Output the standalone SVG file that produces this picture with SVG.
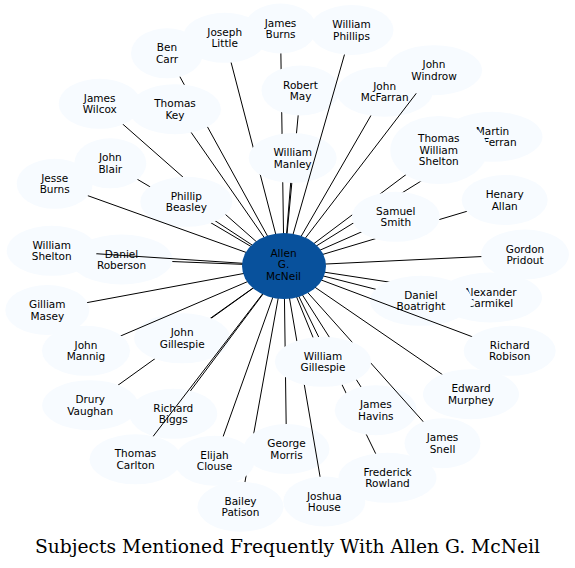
<svg xmlns="http://www.w3.org/2000/svg" xmlns:xlink="http://www.w3.org/1999/xlink" width="575" height="568" viewBox="0 0 575 568">
<style>
.node{fill:#f7fbff}
.node text,.center text{fill:#000;font-family:"DejaVu Sans",sans-serif;font-size:10.5px;text-anchor:middle}
.center{fill:#08519c}
#edges line{stroke:#000;stroke-width:1;fill:none}
mask rect{fill:#fff}
mask use{fill:#000}
.title{font-family:"DejaVu Serif",serif;font-size:18.7px;text-anchor:middle;fill:#000}
</style>
<defs>
<mask id="m-jburns" maskUnits="userSpaceOnUse" x="0" y="0" width="575" height="568"><rect width="575" height="568"/><use href="#e-jburns"/><use href="#e-rmay"/><use href="#e-wmanley"/></mask>
<mask id="m-bcarr" maskUnits="userSpaceOnUse" x="0" y="0" width="575" height="568"><rect width="575" height="568"/><use href="#e-bcarr"/><use href="#e-tkey"/></mask>
<mask id="m-tkey" maskUnits="userSpaceOnUse" x="0" y="0" width="575" height="568"><rect width="575" height="568"/><use href="#e-tkey"/></mask>
<mask id="m-jlittle" maskUnits="userSpaceOnUse" x="0" y="0" width="575" height="568"><rect width="575" height="568"/><use href="#e-jlittle"/><use href="#e-wmanley"/></mask>
<mask id="m-rmay" maskUnits="userSpaceOnUse" x="0" y="0" width="575" height="568"><rect width="575" height="568"/><use href="#e-rmay"/><use href="#e-wmanley"/></mask>
<mask id="m-wmanley" maskUnits="userSpaceOnUse" x="0" y="0" width="575" height="568"><rect width="575" height="568"/><use href="#e-wmanley"/></mask>
<mask id="m-wphillips" maskUnits="userSpaceOnUse" x="0" y="0" width="575" height="568"><rect width="575" height="568"/><use href="#e-wphillips"/></mask>
<mask id="m-jmcfarran" maskUnits="userSpaceOnUse" x="0" y="0" width="575" height="568"><rect width="575" height="568"/><use href="#e-jmcfarran"/></mask>
<mask id="m-jwindrow" maskUnits="userSpaceOnUse" x="0" y="0" width="575" height="568"><rect width="575" height="568"/><use href="#e-jwindrow"/></mask>
<mask id="m-mmcferran" maskUnits="userSpaceOnUse" x="0" y="0" width="575" height="568"><rect width="575" height="568"/><use href="#e-mmcferran"/><use href="#e-twshelton"/><use href="#e-ssmith"/></mask>
<mask id="m-twshelton" maskUnits="userSpaceOnUse" x="0" y="0" width="575" height="568"><rect width="575" height="568"/><use href="#e-twshelton"/><use href="#e-ssmith"/></mask>
<mask id="m-hallan" maskUnits="userSpaceOnUse" x="0" y="0" width="575" height="568"><rect width="575" height="568"/><use href="#e-hallan"/><use href="#e-ssmith"/></mask>
<mask id="m-ssmith" maskUnits="userSpaceOnUse" x="0" y="0" width="575" height="568"><rect width="575" height="568"/><use href="#e-ssmith"/></mask>
<mask id="m-gpridout" maskUnits="userSpaceOnUse" x="0" y="0" width="575" height="568"><rect width="575" height="568"/><use href="#e-gpridout"/></mask>
<mask id="m-acarmikel" maskUnits="userSpaceOnUse" x="0" y="0" width="575" height="568"><rect width="575" height="568"/><use href="#e-acarmikel"/><use href="#e-dboatright"/></mask>
<mask id="m-dboatright" maskUnits="userSpaceOnUse" x="0" y="0" width="575" height="568"><rect width="575" height="568"/><use href="#e-dboatright"/></mask>
<mask id="m-rrobison" maskUnits="userSpaceOnUse" x="0" y="0" width="575" height="568"><rect width="575" height="568"/><use href="#e-rrobison"/></mask>
<mask id="m-emurphey" maskUnits="userSpaceOnUse" x="0" y="0" width="575" height="568"><rect width="575" height="568"/><use href="#e-emurphey"/></mask>
<mask id="m-frowland" maskUnits="userSpaceOnUse" x="0" y="0" width="575" height="568"><rect width="575" height="568"/><use href="#e-frowland"/><use href="#e-jhavins"/><use href="#e-wgillespie"/></mask>
<mask id="m-jhavins" maskUnits="userSpaceOnUse" x="0" y="0" width="575" height="568"><rect width="575" height="568"/><use href="#e-jhavins"/><use href="#e-wgillespie"/></mask>
<mask id="m-jsnell" maskUnits="userSpaceOnUse" x="0" y="0" width="575" height="568"><rect width="575" height="568"/><use href="#e-jsnell"/><use href="#e-wgillespie"/></mask>
<mask id="m-bpatison" maskUnits="userSpaceOnUse" x="0" y="0" width="575" height="568"><rect width="575" height="568"/><use href="#e-bpatison"/><use href="#e-eclouse"/><use href="#e-gmorris"/></mask>
<mask id="m-eclouse" maskUnits="userSpaceOnUse" x="0" y="0" width="575" height="568"><rect width="575" height="568"/><use href="#e-eclouse"/></mask>
<mask id="m-gmorris" maskUnits="userSpaceOnUse" x="0" y="0" width="575" height="568"><rect width="575" height="568"/><use href="#e-gmorris"/><use href="#e-wgillespie"/></mask>
<mask id="m-jhouse" maskUnits="userSpaceOnUse" x="0" y="0" width="575" height="568"><rect width="575" height="568"/><use href="#e-jhouse"/><use href="#e-wgillespie"/></mask>
<mask id="m-wgillespie" maskUnits="userSpaceOnUse" x="0" y="0" width="575" height="568"><rect width="575" height="568"/><use href="#e-wgillespie"/></mask>
<mask id="m-dvaughan" maskUnits="userSpaceOnUse" x="0" y="0" width="575" height="568"><rect width="575" height="568"/><use href="#e-dvaughan"/><use href="#e-jgillespie"/></mask>
<mask id="m-jgillespie" maskUnits="userSpaceOnUse" x="0" y="0" width="575" height="568"><rect width="575" height="568"/><use href="#e-jgillespie"/></mask>
<mask id="m-rbiggs" maskUnits="userSpaceOnUse" x="0" y="0" width="575" height="568"><rect width="575" height="568"/><use href="#e-rbiggs"/></mask>
<mask id="m-tcarlton" maskUnits="userSpaceOnUse" x="0" y="0" width="575" height="568"><rect width="575" height="568"/><use href="#e-tcarlton"/></mask>
<mask id="m-jmannig" maskUnits="userSpaceOnUse" x="0" y="0" width="575" height="568"><rect width="575" height="568"/><use href="#e-jmannig"/></mask>
<mask id="m-gmasey" maskUnits="userSpaceOnUse" x="0" y="0" width="575" height="568"><rect width="575" height="568"/><use href="#e-gmasey"/></mask>
<mask id="m-droberson" maskUnits="userSpaceOnUse" x="0" y="0" width="575" height="568"><rect width="575" height="568"/><use href="#e-droberson"/></mask>
<mask id="m-wshelton" maskUnits="userSpaceOnUse" x="0" y="0" width="575" height="568"><rect width="575" height="568"/><use href="#e-wshelton"/></mask>
<mask id="m-jesseburns" maskUnits="userSpaceOnUse" x="0" y="0" width="575" height="568"><rect width="575" height="568"/><use href="#e-jesseburns"/></mask>
<mask id="m-jblair" maskUnits="userSpaceOnUse" x="0" y="0" width="575" height="568"><rect width="575" height="568"/><use href="#e-jblair"/><use href="#e-pbeasley"/></mask>
<mask id="m-jwilcox" maskUnits="userSpaceOnUse" x="0" y="0" width="575" height="568"><rect width="575" height="568"/><use href="#e-jwilcox"/><use href="#e-pbeasley"/></mask>
<mask id="m-pbeasley" maskUnits="userSpaceOnUse" x="0" y="0" width="575" height="568"><rect width="575" height="568"/><use href="#e-pbeasley"/></mask>
</defs>
<rect width="575" height="568" fill="#fff"/>
<g id="nodes">
<g id="jburns" class="node"><ellipse id="e-jburns" cx="280.5" cy="28.5" rx="36" ry="25"/><text x="280.5" y="26.5">James</text><text x="280.5" y="38.1">Burns</text></g>
<g id="bcarr" class="node"><ellipse id="e-bcarr" cx="167" cy="53.3" rx="36" ry="25"/><text x="167" y="51.3">Ben</text><text x="167" y="62.9">Carr</text></g>
<g id="tkey" class="node"><ellipse id="e-tkey" cx="175" cy="109.2" rx="46" ry="25"/><text x="175" y="107.2">Thomas</text><text x="175" y="118.8">Key</text></g>
<g id="jlittle" class="node"><ellipse id="e-jlittle" cx="224.7" cy="37.8" rx="42" ry="25"/><text x="224.7" y="35.8">Joseph</text><text x="224.7" y="47.4">Little</text></g>
<g id="rmay" class="node"><ellipse id="e-rmay" cx="300.5" cy="90.5" rx="39" ry="25"/><text x="300.5" y="88.5">Robert</text><text x="300.5" y="100.1">May</text></g>
<g id="wmanley" class="node"><ellipse id="e-wmanley" cx="292.7" cy="158" rx="44" ry="25"/><text x="292.7" y="156">William</text><text x="292.7" y="167.6">Manley</text></g>
<g id="wphillips" class="node"><ellipse id="e-wphillips" cx="351.5" cy="30" rx="42" ry="25"/><text x="351.5" y="28">William</text><text x="351.5" y="39.6">Phillips</text></g>
<g id="jmcfarran" class="node"><ellipse id="e-jmcfarran" cx="384.7" cy="91.7" rx="48" ry="25"/><text x="384.7" y="89.7">John</text><text x="384.7" y="101.3">McFarran</text></g>
<g id="jwindrow" class="node"><ellipse id="e-jwindrow" cx="434" cy="70.2" rx="48" ry="25"/><text x="434" y="68.2">John</text><text x="434" y="79.8">Windrow</text></g>
<g id="mmcferran" class="node"><ellipse id="e-mmcferran" cx="492.5" cy="136.8" rx="50" ry="25"/><text x="492.5" y="134.8">Martin</text><text x="492.5" y="146.4">McFerran</text></g>
<g id="twshelton" class="node"><ellipse id="e-twshelton" cx="438.8" cy="150" rx="48.5" ry="34"/><text x="438.8" y="142.3">Thomas</text><text x="438.8" y="153.8">William</text><text x="438.8" y="165.3">Shelton</text></g>
<g id="hallan" class="node"><ellipse id="e-hallan" cx="504.7" cy="200" rx="43" ry="25"/><text x="504.7" y="198">Henary</text><text x="504.7" y="209.6">Allan</text></g>
<g id="ssmith" class="node"><ellipse id="e-ssmith" cx="395.8" cy="216.8" rx="44" ry="25"/><text x="395.8" y="214.8">Samuel</text><text x="395.8" y="226.4">Smith</text></g>
<g id="gpridout" class="node"><ellipse id="e-gpridout" cx="525" cy="254.5" rx="44" ry="25"/><text x="525" y="252.5">Gordon</text><text x="525" y="264.1">Pridout</text></g>
<g id="acarmikel" class="node"><ellipse id="e-acarmikel" cx="490" cy="297.5" rx="52" ry="25"/><text x="490" y="295.5">Alexander</text><text x="490" y="307.1">Carmikel</text></g>
<g id="dboatright" class="node"><ellipse id="e-dboatright" cx="421" cy="300.8" rx="51" ry="25"/><text x="421" y="298.8">Daniel</text><text x="421" y="310.4">Boatright</text></g>
<g id="rrobison" class="node"><ellipse id="e-rrobison" cx="509.7" cy="350.8" rx="46" ry="25"/><text x="509.7" y="348.8">Richard</text><text x="509.7" y="360.4">Robison</text></g>
<g id="emurphey" class="node"><ellipse id="e-emurphey" cx="471" cy="394.2" rx="48" ry="25"/><text x="471" y="392.2">Edward</text><text x="471" y="403.8">Murphey</text></g>
<g id="frowland" class="node"><ellipse id="e-frowland" cx="387.5" cy="477.8" rx="49" ry="25"/><text x="387.5" y="475.8">Frederick</text><text x="387.5" y="487.4">Rowland</text></g>
<g id="jhavins" class="node"><ellipse id="e-jhavins" cx="375.8" cy="410.2" rx="41" ry="25"/><text x="375.8" y="408.2">James</text><text x="375.8" y="419.8">Havins</text></g>
<g id="jsnell" class="node"><ellipse id="e-jsnell" cx="442.5" cy="443.2" rx="38" ry="25"/><text x="442.5" y="441.2">James</text><text x="442.5" y="452.8">Snell</text></g>
<g id="bpatison" class="node"><ellipse id="e-bpatison" cx="240.5" cy="506.7" rx="43" ry="25"/><text x="240.5" y="504.7">Bailey</text><text x="240.5" y="516.3">Patison</text></g>
<g id="eclouse" class="node"><ellipse id="e-eclouse" cx="214.5" cy="460.7" rx="40" ry="25"/><text x="214.5" y="458.7">Elijah</text><text x="214.5" y="470.3">Clouse</text></g>
<g id="gmorris" class="node"><ellipse id="e-gmorris" cx="286.5" cy="449" rx="43" ry="25"/><text x="286.5" y="447">George</text><text x="286.5" y="458.6">Morris</text></g>
<g id="jhouse" class="node"><ellipse id="e-jhouse" cx="324.3" cy="501.5" rx="41" ry="25"/><text x="324.3" y="499.5">Joshua</text><text x="324.3" y="511.1">House</text></g>
<g id="wgillespie" class="node"><ellipse id="e-wgillespie" cx="323" cy="361.8" rx="48" ry="25"/><text x="323" y="359.8">William</text><text x="323" y="371.4">Gillespie</text></g>
<g id="dvaughan" class="node"><ellipse id="e-dvaughan" cx="90.2" cy="405.2" rx="48" ry="25"/><text x="90.2" y="403.2">Drury</text><text x="90.2" y="414.8">Vaughan</text></g>
<g id="jgillespie" class="node"><ellipse id="e-jgillespie" cx="182.2" cy="338.3" rx="48" ry="25"/><text x="182.2" y="336.3">John</text><text x="182.2" y="347.9">Gillespie</text></g>
<g id="rbiggs" class="node"><ellipse id="e-rbiggs" cx="173.3" cy="413.8" rx="44" ry="25"/><text x="173.3" y="411.8">Richard</text><text x="173.3" y="423.4">Biggs</text></g>
<g id="tcarlton" class="node"><ellipse id="e-tcarlton" cx="135.5" cy="459.3" rx="46" ry="25"/><text x="135.5" y="457.3">Thomas</text><text x="135.5" y="468.9">Carlton</text></g>
<g id="jmannig" class="node"><ellipse id="e-jmannig" cx="86" cy="350.8" rx="44" ry="25"/><text x="86" y="348.8">John</text><text x="86" y="360.4">Mannig</text></g>
<g id="gmasey" class="node"><ellipse id="e-gmasey" cx="47.3" cy="310" rx="42" ry="25"/><text x="47.3" y="308">Gilliam</text><text x="47.3" y="319.6">Masey</text></g>
<g id="droberson" class="node"><ellipse id="e-droberson" cx="121.5" cy="259.5" rx="51" ry="25"/><text x="121.5" y="257.5">Daniel</text><text x="121.5" y="269.1">Roberson</text></g>
<g id="wshelton" class="node"><ellipse id="e-wshelton" cx="51.7" cy="250.8" rx="45" ry="25"/><text x="51.7" y="248.8">William</text><text x="51.7" y="260.4">Shelton</text></g>
<g id="jesseburns" class="node"><ellipse id="e-jesseburns" cx="54.7" cy="183.8" rx="38" ry="25"/><text x="54.7" y="181.8">Jesse</text><text x="54.7" y="193.4">Burns</text></g>
<g id="jblair" class="node"><ellipse id="e-jblair" cx="110.3" cy="163.3" rx="36" ry="25"/><text x="110.3" y="161.3">John</text><text x="110.3" y="172.9">Blair</text></g>
<g id="jwilcox" class="node"><ellipse id="e-jwilcox" cx="99.7" cy="103.8" rx="41" ry="25"/><text x="99.7" y="101.8">James</text><text x="99.7" y="113.4">Wilcox</text></g>
<g id="pbeasley" class="node"><ellipse id="e-pbeasley" cx="186.3" cy="201.8" rx="46" ry="25"/><text x="186.3" y="199.8">Phillip</text><text x="186.3" y="211.4">Beasley</text></g>
</g>
<g id="edges">
<line x1="284" y1="266" x2="280.5" y2="28.5" mask="url(#m-jburns)"/>
<line x1="284" y1="266" x2="167" y2="53.3" mask="url(#m-bcarr)"/>
<line x1="284" y1="266" x2="175" y2="109.2" mask="url(#m-tkey)"/>
<line x1="284" y1="266" x2="224.7" y2="37.8" mask="url(#m-jlittle)"/>
<line x1="284" y1="266" x2="300.5" y2="90.5" mask="url(#m-rmay)"/>
<line x1="284" y1="266" x2="292.7" y2="158" mask="url(#m-wmanley)"/>
<line x1="284" y1="266" x2="351.5" y2="30" mask="url(#m-wphillips)"/>
<line x1="284" y1="266" x2="384.7" y2="91.7" mask="url(#m-jmcfarran)"/>
<line x1="284" y1="266" x2="434" y2="70.2" mask="url(#m-jwindrow)"/>
<line x1="284" y1="266" x2="492.5" y2="136.8" mask="url(#m-mmcferran)"/>
<line x1="284" y1="266" x2="438.8" y2="150" mask="url(#m-twshelton)"/>
<line x1="284" y1="266" x2="504.7" y2="200" mask="url(#m-hallan)"/>
<line x1="284" y1="266" x2="395.8" y2="216.8" mask="url(#m-ssmith)"/>
<line x1="284" y1="266" x2="525" y2="254.5" mask="url(#m-gpridout)"/>
<line x1="284" y1="266" x2="490" y2="297.5" mask="url(#m-acarmikel)"/>
<line x1="284" y1="266" x2="421" y2="300.8" mask="url(#m-dboatright)"/>
<line x1="284" y1="266" x2="509.7" y2="350.8" mask="url(#m-rrobison)"/>
<line x1="284" y1="266" x2="471" y2="394.2" mask="url(#m-emurphey)"/>
<line x1="284" y1="266" x2="387.5" y2="477.8" mask="url(#m-frowland)"/>
<line x1="284" y1="266" x2="375.8" y2="410.2" mask="url(#m-jhavins)"/>
<line x1="284" y1="266" x2="442.5" y2="443.2" mask="url(#m-jsnell)"/>
<line x1="284" y1="266" x2="240.5" y2="506.7" mask="url(#m-bpatison)"/>
<line x1="284" y1="266" x2="214.5" y2="460.7" mask="url(#m-eclouse)"/>
<line x1="284" y1="266" x2="286.5" y2="449" mask="url(#m-gmorris)"/>
<line x1="284" y1="266" x2="324.3" y2="501.5" mask="url(#m-jhouse)"/>
<line x1="284" y1="266" x2="323" y2="361.8" mask="url(#m-wgillespie)"/>
<line x1="284" y1="266" x2="90.2" y2="405.2" mask="url(#m-dvaughan)"/>
<line x1="284" y1="266" x2="182.2" y2="338.3" mask="url(#m-jgillespie)"/>
<line x1="284" y1="266" x2="173.3" y2="413.8" mask="url(#m-rbiggs)"/>
<line x1="284" y1="266" x2="135.5" y2="459.3" mask="url(#m-tcarlton)"/>
<line x1="284" y1="266" x2="86" y2="350.8" mask="url(#m-jmannig)"/>
<line x1="284" y1="266" x2="47.3" y2="310" mask="url(#m-gmasey)"/>
<line x1="284" y1="266" x2="121.5" y2="259.5" mask="url(#m-droberson)"/>
<line x1="284" y1="266" x2="51.7" y2="250.8" mask="url(#m-wshelton)"/>
<line x1="284" y1="266" x2="54.7" y2="183.8" mask="url(#m-jesseburns)"/>
<line x1="284" y1="266" x2="110.3" y2="163.3" mask="url(#m-jblair)"/>
<line x1="284" y1="266" x2="99.7" y2="103.8" mask="url(#m-jwilcox)"/>
<line x1="284" y1="266" x2="186.3" y2="201.8" mask="url(#m-pbeasley)"/>
</g>
<g id="allen" class="center"><ellipse cx="284" cy="266" rx="42" ry="33"/><text x="283.5" y="257">Allen</text><text x="283.5" y="268.3">G.</text><text x="283.5" y="279.6">McNeil</text></g>
<text class="title" x="287.5" y="553">Subjects Mentioned Frequently With Allen G. McNeil</text>
</svg>
